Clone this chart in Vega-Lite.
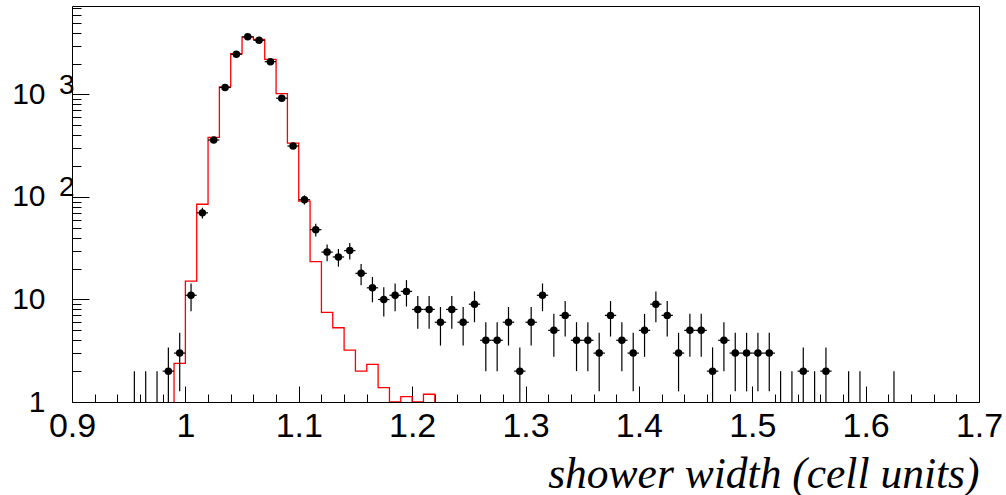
{
  "$schema": "https://vega.github.io/schema/vega-lite/v6.json",
  "width": 907,
  "height": 396,
  "autosize": "none",
  "padding": {"left": 72, "top": 6, "right": 27, "bottom": 93},
  "background": "white",
  "config": {
    "view": {"stroke": "black", "strokeWidth": 1},
    "axis": {"domain": false, "grid": false, "labelFont": "Liberation Sans", "labelColor": "black", "tickColor": "black", "tickWidth": 1, "labelOverlap": false, "labelFlush": false}
  },
  "datasets": {
    "mc": [
      {"i": 0, "edge": 0.99, "mc": 1},
      {"i": 1, "edge": 0.99, "mc": 2.38},
      {"i": 2, "edge": 1.00, "mc": 15.1},
      {"i": 3, "edge": 1.01, "mc": 85},
      {"i": 4, "edge": 1.02, "mc": 381},
      {"i": 5, "edge": 1.03, "mc": 1186},
      {"i": 6, "edge": 1.04, "mc": 2500},
      {"i": 7, "edge": 1.05, "mc": 3656},
      {"i": 8, "edge": 1.06, "mc": 3450},
      {"i": 9, "edge": 1.07, "mc": 2205},
      {"i": 10, "edge": 1.08, "mc": 1021},
      {"i": 11, "edge": 1.09, "mc": 336},
      {"i": 12, "edge": 1.10, "mc": 91},
      {"i": 13, "edge": 1.11, "mc": 23.4},
      {"i": 14, "edge": 1.12, "mc": 7.5},
      {"i": 15, "edge": 1.13, "mc": 5.3},
      {"i": 16, "edge": 1.14, "mc": 3.2},
      {"i": 17, "edge": 1.15, "mc": 2.0},
      {"i": 18, "edge": 1.16, "mc": 2.33},
      {"i": 19, "edge": 1.17, "mc": 1.38},
      {"i": 20, "edge": 1.18, "mc": 1},
      {"i": 21, "edge": 1.19, "mc": 1.13},
      {"i": 22, "edge": 1.20, "mc": 1},
      {"i": 23, "edge": 1.21, "mc": 1.19},
      {"i": 24, "edge": 1.22, "mc": 1}
    ],
    "obs": [
      {"x": 0.955, "x0": 0.95, "x1": 0.96, "n": 1, "lo": 1, "hi": 2},
      {"x": 0.965, "x0": 0.96, "x1": 0.97, "n": 1, "lo": 1, "hi": 2},
      {"x": 0.975, "x0": 0.97, "x1": 0.98, "n": 1, "lo": 1, "hi": 2},
      {"x": 0.985, "x0": 0.98, "x1": 0.99, "n": 2, "lo": 1, "hi": 3.41},
      {"x": 0.995, "x0": 0.99, "x1": 1.00, "n": 3, "lo": 1.27, "hi": 4.73},
      {"x": 1.005, "x0": 1.00, "x1": 1.01, "n": 11, "lo": 7.68, "hi": 14.32},
      {"x": 1.015, "x0": 1.01, "x1": 1.02, "n": 70, "lo": 61.6, "hi": 78.4},
      {"x": 1.025, "x0": 1.02, "x1": 1.03, "n": 360, "lo": 341, "hi": 379},
      {"x": 1.035, "x0": 1.03, "x1": 1.04, "n": 1170, "lo": 1136, "hi": 1204},
      {"x": 1.045, "x0": 1.04, "x1": 1.05, "n": 2470, "lo": 2420, "hi": 2520},
      {"x": 1.055, "x0": 1.05, "x1": 1.06, "n": 3650, "lo": 3590, "hi": 3710},
      {"x": 1.065, "x0": 1.06, "x1": 1.07, "n": 3380, "lo": 3322, "hi": 3438},
      {"x": 1.075, "x0": 1.07, "x1": 1.08, "n": 2090, "lo": 2044, "hi": 2136},
      {"x": 1.085, "x0": 1.08, "x1": 1.09, "n": 920, "lo": 890, "hi": 950},
      {"x": 1.095, "x0": 1.09, "x1": 1.10, "n": 314, "lo": 296, "hi": 332},
      {"x": 1.105, "x0": 1.10, "x1": 1.11, "n": 94, "lo": 84.3, "hi": 103.7},
      {"x": 1.115, "x0": 1.11, "x1": 1.12, "n": 48, "lo": 41.1, "hi": 54.9},
      {"x": 1.125, "x0": 1.12, "x1": 1.13, "n": 29, "lo": 23.6, "hi": 34.4},
      {"x": 1.135, "x0": 1.13, "x1": 1.14, "n": 26, "lo": 20.9, "hi": 31.1},
      {"x": 1.145, "x0": 1.14, "x1": 1.15, "n": 30, "lo": 24.5, "hi": 35.5},
      {"x": 1.155, "x0": 1.15, "x1": 1.16, "n": 18, "lo": 13.76, "hi": 22.24},
      {"x": 1.165, "x0": 1.16, "x1": 1.17, "n": 13, "lo": 9.39, "hi": 16.61},
      {"x": 1.175, "x0": 1.17, "x1": 1.18, "n": 10, "lo": 6.84, "hi": 13.16},
      {"x": 1.185, "x0": 1.18, "x1": 1.19, "n": 11, "lo": 7.68, "hi": 14.32},
      {"x": 1.195, "x0": 1.19, "x1": 1.20, "n": 12, "lo": 8.54, "hi": 15.46},
      {"x": 1.205, "x0": 1.20, "x1": 1.21, "n": 8, "lo": 5.17, "hi": 10.83},
      {"x": 1.215, "x0": 1.21, "x1": 1.22, "n": 8, "lo": 5.17, "hi": 10.83},
      {"x": 1.225, "x0": 1.22, "x1": 1.23, "n": 6, "lo": 3.55, "hi": 8.45},
      {"x": 1.235, "x0": 1.23, "x1": 1.24, "n": 8, "lo": 5.17, "hi": 10.83},
      {"x": 1.245, "x0": 1.24, "x1": 1.25, "n": 6, "lo": 3.55, "hi": 8.45},
      {"x": 1.255, "x0": 1.25, "x1": 1.26, "n": 9, "lo": 6, "hi": 12},
      {"x": 1.265, "x0": 1.26, "x1": 1.27, "n": 4, "lo": 2, "hi": 6},
      {"x": 1.275, "x0": 1.27, "x1": 1.28, "n": 4, "lo": 2, "hi": 6},
      {"x": 1.285, "x0": 1.28, "x1": 1.29, "n": 6, "lo": 3.55, "hi": 8.45},
      {"x": 1.295, "x0": 1.29, "x1": 1.30, "n": 2, "lo": 1, "hi": 3.41},
      {"x": 1.305, "x0": 1.30, "x1": 1.31, "n": 6, "lo": 3.55, "hi": 8.45},
      {"x": 1.315, "x0": 1.31, "x1": 1.32, "n": 11, "lo": 7.68, "hi": 14.32},
      {"x": 1.325, "x0": 1.32, "x1": 1.33, "n": 5, "lo": 2.76, "hi": 7.24},
      {"x": 1.335, "x0": 1.33, "x1": 1.34, "n": 7, "lo": 4.35, "hi": 9.65},
      {"x": 1.345, "x0": 1.34, "x1": 1.35, "n": 4, "lo": 2, "hi": 6},
      {"x": 1.355, "x0": 1.35, "x1": 1.36, "n": 4, "lo": 2, "hi": 6},
      {"x": 1.365, "x0": 1.36, "x1": 1.37, "n": 3, "lo": 1.27, "hi": 4.73},
      {"x": 1.375, "x0": 1.37, "x1": 1.38, "n": 7, "lo": 4.35, "hi": 9.65},
      {"x": 1.385, "x0": 1.38, "x1": 1.39, "n": 4, "lo": 2, "hi": 6},
      {"x": 1.395, "x0": 1.39, "x1": 1.40, "n": 3, "lo": 1.27, "hi": 4.73},
      {"x": 1.405, "x0": 1.40, "x1": 1.41, "n": 5, "lo": 2.76, "hi": 7.24},
      {"x": 1.415, "x0": 1.41, "x1": 1.42, "n": 9, "lo": 6, "hi": 12},
      {"x": 1.425, "x0": 1.42, "x1": 1.43, "n": 7, "lo": 4.35, "hi": 9.65},
      {"x": 1.435, "x0": 1.43, "x1": 1.44, "n": 3, "lo": 1.27, "hi": 4.73},
      {"x": 1.445, "x0": 1.44, "x1": 1.45, "n": 5, "lo": 2.76, "hi": 7.24},
      {"x": 1.455, "x0": 1.45, "x1": 1.46, "n": 5, "lo": 2.76, "hi": 7.24},
      {"x": 1.465, "x0": 1.46, "x1": 1.47, "n": 2, "lo": 1, "hi": 3.41},
      {"x": 1.475, "x0": 1.47, "x1": 1.48, "n": 4, "lo": 2, "hi": 6},
      {"x": 1.485, "x0": 1.48, "x1": 1.49, "n": 3, "lo": 1.27, "hi": 4.73},
      {"x": 1.495, "x0": 1.49, "x1": 1.50, "n": 3, "lo": 1.27, "hi": 4.73},
      {"x": 1.505, "x0": 1.50, "x1": 1.51, "n": 3, "lo": 1.27, "hi": 4.73},
      {"x": 1.515, "x0": 1.51, "x1": 1.52, "n": 3, "lo": 1.27, "hi": 4.73},
      {"x": 1.525, "x0": 1.52, "x1": 1.53, "n": 1, "lo": 1, "hi": 2},
      {"x": 1.535, "x0": 1.53, "x1": 1.54, "n": 1, "lo": 1, "hi": 2},
      {"x": 1.545, "x0": 1.54, "x1": 1.55, "n": 2, "lo": 1, "hi": 3.41},
      {"x": 1.555, "x0": 1.55, "x1": 1.56, "n": 1, "lo": 1, "hi": 2},
      {"x": 1.565, "x0": 1.56, "x1": 1.57, "n": 2, "lo": 1, "hi": 3.41},
      {"x": 1.585, "x0": 1.58, "x1": 1.59, "n": 1, "lo": 1, "hi": 2},
      {"x": 1.595, "x0": 1.59, "x1": 1.60, "n": 1, "lo": 1, "hi": 2},
      {"x": 1.625, "x0": 1.62, "x1": 1.63, "n": 1, "lo": 1, "hi": 2}
    ]
  },
  "layer": [
    {
      "data": {"name": "mc"},
      "mark": {"type": "line", "interpolate": "step-after", "color": "#ff0000", "strokeWidth": 1.3, "clip": true},
      "encoding": {
        "x": {"field": "edge", "type": "quantitative",
          "scale": {"domain": [0.9, 1.7], "nice": false, "zero": false},
          "axis": {"orient": "bottom", "values": [0.9, 1.0, 1.1, 1.2, 1.3, 1.4, 1.5, 1.6, 1.7], "format": "~g", "ticks": false, "labelFontSize": 34, "labelPadding": 7,
            "title": "shower width (cell units)", "titleFont": "Liberation Serif", "titleFontStyle": "italic", "titleFontWeight": "normal", "titleFontSize": 43.5, "titleColor": "black",
            "titleAnchor": "end", "titleAlign": "right", "titleBaseline": "alphabetic", "titleX": 907, "titleY": 85}},
        "y": {"field": "mc", "type": "quantitative",
          "scale": {"type": "log", "domain": [1, 7300], "nice": false},
          "axis": {"orient": "left", "values": [1, 10, 100, 1000], "labelExpr": "datum.value == 1 ? '1' : '10'", "ticks": false, "labelFontSize": 30, "labelPadding": 27, "labelAlign": "right", "labelBaseline": "middle", "title": null,
            "encode": {"labels": {"update": {"dy": {"signal": "datum.value == 1 ? -10 : 2"}}}}}},
        "order": {"field": "i", "type": "quantitative"}
      }
    },
    {
      "data": {"name": "obs"},
      "mark": {"type": "rule", "color": "black", "strokeWidth": 1.2, "clip": true},
      "encoding": {
        "x": {"field": "x", "type": "quantitative", "scale": {"domain": [0.9, 1.7], "nice": false, "zero": false},
          "axis": {"orient": "bottom", "values": [0.9, 1.0, 1.1, 1.2, 1.3, 1.4, 1.5, 1.6, 1.7], "labels": false, "ticks": true, "tickSize": -16, "title": null}},
        "y": {"field": "lo", "type": "quantitative", "scale": {"type": "log", "domain": [1, 7300], "nice": false},
          "axis": {"orient": "left", "values": [1, 10, 100, 1000], "labels": false, "ticks": true, "tickSize": -17, "title": null}},
        "y2": {"field": "hi"}
      }
    },
    {
      "data": {"name": "obs"},
      "transform": [{"filter": "datum.n > 1"}],
      "mark": {"type": "rule", "color": "black", "strokeWidth": 1.2, "clip": true},
      "encoding": {
        "x": {"field": "x0", "type": "quantitative", "scale": {"domain": [0.9, 1.7], "nice": false, "zero": false},
          "axis": {"orient": "bottom", "values": [0.92, 0.94, 0.96, 0.98, 1.02, 1.04, 1.06, 1.08, 1.12, 1.14, 1.16, 1.18, 1.22, 1.24, 1.26, 1.28, 1.32, 1.34, 1.36, 1.38, 1.42, 1.44, 1.46, 1.48, 1.52, 1.54, 1.56, 1.58, 1.62, 1.64, 1.66, 1.68], "labels": false, "ticks": true, "tickSize": -8, "title": null}},
        "x2": {"field": "x1"},
        "y": {"field": "n", "type": "quantitative", "scale": {"type": "log", "domain": [1, 7300], "nice": false},
          "axis": {"orient": "left", "values": [2, 3, 4, 5, 6, 7, 8, 9, 20, 30, 40, 50, 60, 70, 80, 90, 200, 300, 400, 500, 600, 700, 800, 900, 2000, 3000, 4000, 5000, 6000, 7000], "labels": false, "ticks": true, "tickSize": -9, "title": null}}
      }
    },
    {
      "data": {"name": "obs"},
      "transform": [{"filter": "datum.n > 1"}],
      "mark": {"type": "circle", "color": "black", "opacity": 1, "size": 56, "clip": true},
      "encoding": {
        "x": {"field": "x", "type": "quantitative", "scale": {"domain": [0.9, 1.7], "nice": false, "zero": false}, "axis": null},
        "y": {"field": "n", "type": "quantitative", "scale": {"type": "log", "domain": [1, 7300], "nice": false},
          "axis": {"orient": "left", "values": [100, 1000], "labelExpr": "datum.value == 100 ? '2' : '3'", "ticks": false, "labelFontSize": 28, "labelPadding": -2, "labelAlign": "right", "labelBaseline": "middle", "labelOffset": -9, "title": null}}
      }
    }
  ],
  "resolve": {"axis": {"x": "independent", "y": "independent"}}
}
